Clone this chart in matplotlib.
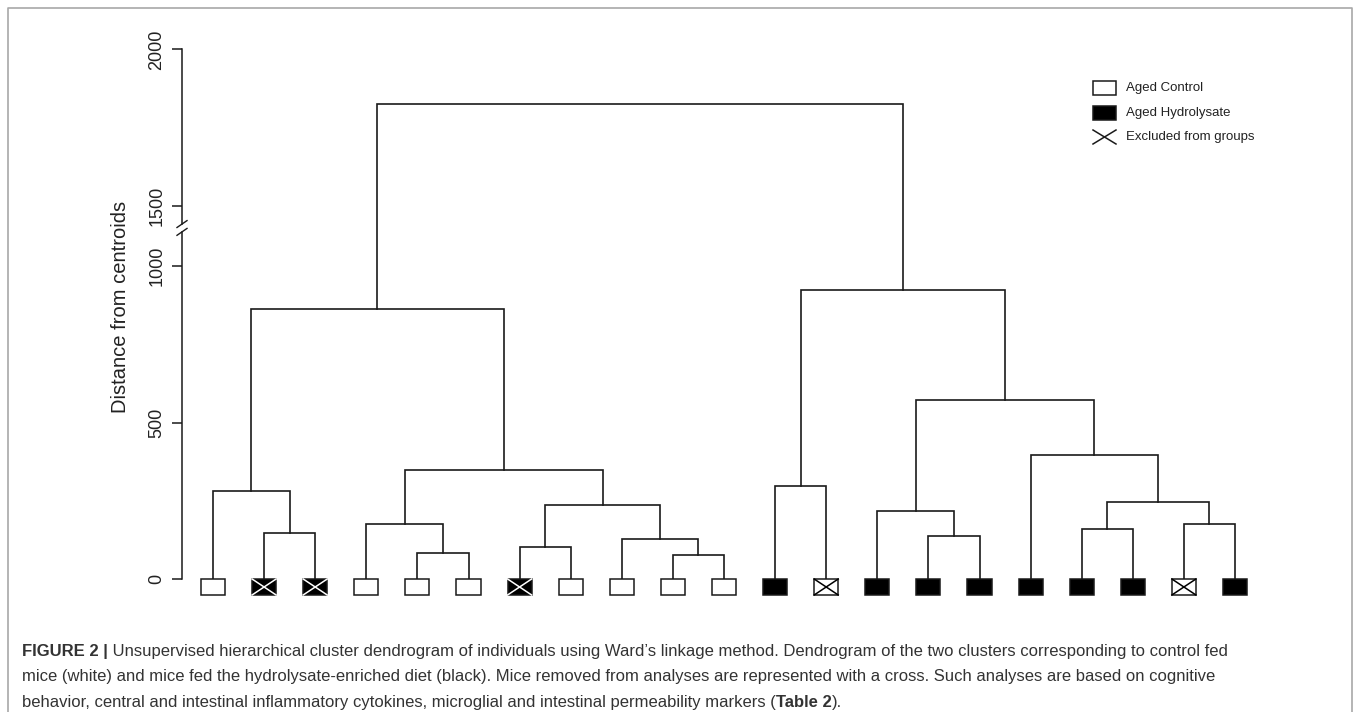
import matplotlib.pyplot as plt
from matplotlib.patches import Rectangle
from matplotlib.lines import Line2D

plt.rcParams['font.family'] = ['Liberation Sans', 'DejaVu Sans']

# --- data: leaves from left to right ---
# diet of each mouse: 'C' = aged control (white), 'H' = aged hydrolysate (black)
leaf_diet = ['C', 'H', 'H', 'C', 'C', 'C', 'H', 'C', 'C', 'C', 'C',
             'H', 'C', 'H', 'H', 'H', 'H', 'H', 'H', 'C', 'H']
# mice excluded from groups (drawn with a cross)
leaf_excluded = [0, 1, 1, 0, 0, 0, 1, 0, 0, 0, 0,
                 0, 1, 0, 0, 0, 0, 0, 0, 1, 0]

# merges (ids < 21 are leaves, merge k gets id 21 + k)
merge_left = [1, 0, 4, 3, 6, 9, 8, 25, 24, 22,
              11, 14, 13, 17, 19, 34, 16, 33, 31, 30]
merge_right = [2, 21, 5, 23, 7, 10, 26, 27, 28, 29,
               12, 15, 32, 18, 20, 35, 36, 37, 38, 39]
merge_height = [147, 281, 83, 176, 102, 77, 128, 236, 348, 863,
                297, 137, 217, 160, 176, 246, 396, 572, 923, 1826]

ytick_values = [0, 500, 1000, 1500, 2000]

# y axis is broken between 1000 and 1500
BREAK_SHIFT = 308


def ypos(v):
    return v - BREAK_SHIFT if v > 1000 else v


W, H = 1358, 712
fig = plt.figure(figsize=(W / 100, H / 100), dpi=100)


def fx(x):
    return x / W


def fy(y):
    return 1 - y / H


ax = fig.add_axes([fx(182), fy(610), 1118 / W, 570 / H])
line_col = '#1a1a1a'

# dendrogram branches
n = len(leaf_diet)
node_x = [i + 1 for i in range(n)]
node_h = [0] * n
for l, r, h in zip(merge_left, merge_right, merge_height):
    xl, xr = node_x[l], node_x[r]
    ax.plot([xl, xl, xr, xr],
            [ypos(node_h[l]), ypos(h), ypos(h), ypos(node_h[r])],
            color=line_col, lw=1.2, solid_joinstyle='miter')
    node_x.append((xl + xr) / 2)
    node_h.append(h)

# leaf boxes
bw, bh = 0.47, 51
for i, (diet, exc) in enumerate(zip(leaf_diet, leaf_excluded)):
    x = i + 1
    face = 'black' if diet == 'H' else 'white'
    ax.add_patch(Rectangle((x - bw / 2, -bh), bw, bh, facecolor=face,
                           edgecolor=line_col, lw=1.1, zorder=3))
    if exc:
        cc = 'white' if diet == 'H' else 'black'
        ax.plot([x - bw / 2, x + bw / 2], [-bh, 0], color=cc, lw=1.1, zorder=4)
        ax.plot([x - bw / 2, x + bw / 2], [0, -bh], color=cc, lw=1.1, zorder=4)

x0, x1 = 0.3933, 22.272
ax.set_xlim(x0, x1)
ax.set_ylim(-99, 1722)

for s in ['top', 'right', 'bottom']:
    ax.spines[s].set_visible(False)
ax.spines['left'].set_bounds(0, 1109)
ax.spines['left'].set_color(line_col)
ax.spines['left'].set_linewidth(1.1)
ax.set_xticks([])
ax.set_yticks([ypos(v) for v in ytick_values], [str(v) for v in ytick_values])
ax.tick_params(axis='y', length=7, width=1.1, pad=5, labelsize=13,
               labelrotation=90, color=line_col, labelcolor='#222222')
for lbl in ax.get_yticklabels():
    lbl.set_va('center')

# upper part of the axis + break marks
ax.plot([x0, x0], [1134, ypos(2000)], color=line_col, lw=1.1, clip_on=False)
for yc in [1134, 1109]:
    ax.plot([x0 - 0.098, x0 + 0.098], [yc - 11, yc + 11], color=line_col,
            lw=1.0, clip_on=False)

fig.text(fx(121), fy(307), 'Distance from centroids', rotation=90,
         ha='center', va='center', fontsize=14.5, color='#222222')

# legend
legend_rows = [88, 113, 137]
legend_labels = ['Aged Control', 'Aged Hydrolysate', 'Excluded from groups']
fig.add_artist(Rectangle((fx(1093), fy(legend_rows[0] + 7)), 23 / W, 14 / H,
                         transform=fig.transFigure, facecolor='white',
                         edgecolor=line_col, lw=1.1))
fig.add_artist(Rectangle((fx(1093), fy(legend_rows[1] + 7)), 23 / W, 14 / H,
                         transform=fig.transFigure, facecolor='black',
                         edgecolor=line_col, lw=1.1))
yc = legend_rows[2]
fig.add_artist(Line2D([fx(1093), fx(1116)], [fy(yc + 7), fy(yc - 7)],
                      transform=fig.transFigure, color=line_col, lw=1.1))
fig.add_artist(Line2D([fx(1093), fx(1116)], [fy(yc - 7), fy(yc + 7)],
                      transform=fig.transFigure, color=line_col, lw=1.1))
for yr, lab in zip(legend_rows, legend_labels):
    fig.text(fx(1126), fy(yr), lab, ha='left', va='center', fontsize=9.5,
             color='#222222')

# frame around the figure (open at the bottom)
fig.add_artist(Line2D([fx(8), fx(8), fx(1352), fx(1352)],
                      [fy(730), fy(8), fy(8), fy(730)],
                      transform=fig.transFigure, color='#a8a8a8', lw=1.2))

# caption
cap = fig.add_axes([0, 0, 1, 1])
cap.axis('off')
cap_col = '#333333'
cap_size = 12
t = cap.text(fx(22), fy(656), 'FIGURE 2 |', weight='bold', fontsize=cap_size,
             color=cap_col, va='baseline', transform=cap.transAxes)
cap.annotate(' Unsupervised hierarchical cluster dendrogram of individuals using '
             'Ward\u2019s linkage method. Dendrogram of the two clusters '
             'corresponding to control fed',
             xy=(1, 0), xycoords=t, va='bottom', ha='left',
             fontsize=cap_size, color=cap_col)
cap.text(fx(22), fy(681), 'mice (white) and mice fed the hydrolysate-enriched diet '
         '(black). Mice removed from analyses are represented with a cross. '
         'Such analyses are based on cognitive',
         fontsize=cap_size, color=cap_col, va='baseline', transform=cap.transAxes)
t3 = cap.text(fx(22), fy(707), 'behavior, central and intestinal inflammatory '
              'cytokines, microglial and intestinal permeability markers (',
              fontsize=cap_size, color=cap_col, va='baseline',
              transform=cap.transAxes)
t4 = cap.annotate('Table 2', xy=(1, 0), xycoords=t3, va='bottom', ha='left',
                  fontsize=cap_size, color=cap_col, weight='bold')
cap.annotate(').', xy=(1, 0), xycoords=t4, va='bottom', ha='left',
             fontsize=cap_size, color=cap_col)

fig.savefig('out.png', dpi=100)
